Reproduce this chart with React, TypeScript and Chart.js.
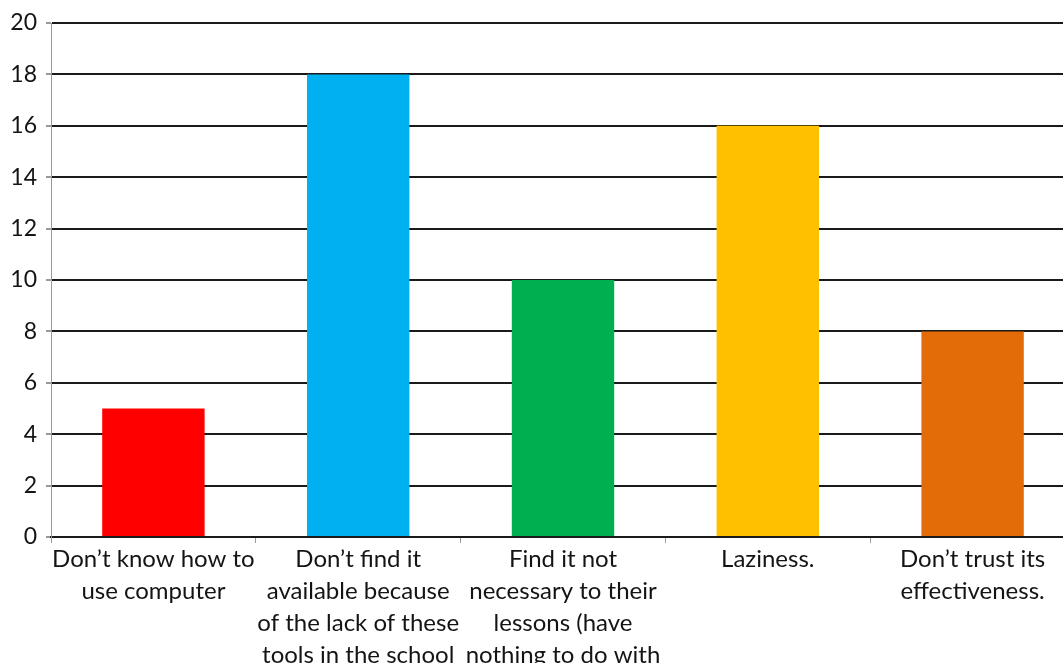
import React, { useEffect, useRef } from "react";
import { Chart, registerables } from "chart.js";

Chart.register(...registerables);

// Reasons given for not using computers in teaching
const categories: string[][] = [
  ["Don’t know how to", "use computer"],
  ["Don’t find it", "available because", "of the lack of these", "tools in the school"],
  ["Find it not", "necessary to their", "lessons (have", "nothing to do with", "their subjects)"],
  ["Laziness."],
  ["Don’t trust its", "effectiveness."],
];
const counts: number[] = [5, 18, 10, 16, 8];
const barColors: string[] = ["#FF0000", "#00B0F0", "#00B050", "#FFC000", "#E36C09"];
const yTicks: number[] = [0, 2, 4, 6, 8, 10, 12, 14, 16, 18, 20];

const FONT = "Lato, 'Open Sans', sans-serif";

export default function App() {
  const canvasRef = useRef<HTMLCanvasElement | null>(null);

  useEffect(() => {
    if (!canvasRef.current) return;
    const chart = new Chart(canvasRef.current, {
      type: "bar",
      data: {
        labels: categories,
        datasets: [
          {
            data: counts,
            backgroundColor: barColors,
            borderWidth: 0,
            categoryPercentage: 1,
            barPercentage: 0.5,
          },
        ],
      },
      options: {
        responsive: false,
        animation: false,
        layout: { padding: { top: 23, right: 25, bottom: 23, left: 0 } },
        plugins: { legend: { display: false }, tooltip: { enabled: false } },
        scales: {
          x: {
            afterFit: (scale: any) => {
              scale.height = 200;
            },
            grid: {
              offset: true,
              drawOnChartArea: false,
              drawTicks: true,
              tickLength: 6,
              tickColor: "#9a9a9a",
              lineWidth: 1,
            },
            border: { color: "#1a1a1a", width: 2 },
            ticks: {
              color: "#141414",
              maxRotation: 0,
              autoSkip: false,
              padding: 0,
              font: { family: FONT, size: 24, lineHeight: 1.333 },
            },
          },
          y: {
            min: 0,
            max: 20,
            afterFit: (scale: any) => {
              scale.width = 51;
            },
            afterBuildTicks: (scale: any) => {
              scale.ticks = yTicks.map((v) => ({ value: v }));
            },
            grid: {
              color: "#1a1a1a",
              lineWidth: 2,
              drawTicks: true,
              tickLength: 5,
              tickColor: "#9a9a9a",
            },
            border: { display: true, color: "#9a9a9a", width: 1 },
            ticks: {
              color: "#141414",
              padding: 9,
              font: { family: FONT, size: 23 },
            },
          },
        },
      },
    });
    return () => chart.destroy();
  }, []);

  return (
    <div
      style={{
        position: "fixed",
        left: 0,
        top: 0,
        width: 1063,
        height: 663,
        overflow: "hidden",
        background: "#fff",
      }}
    >
      <canvas ref={canvasRef} width={1100} height={760} style={{ display: "block" }} />
    </div>
  );
}
